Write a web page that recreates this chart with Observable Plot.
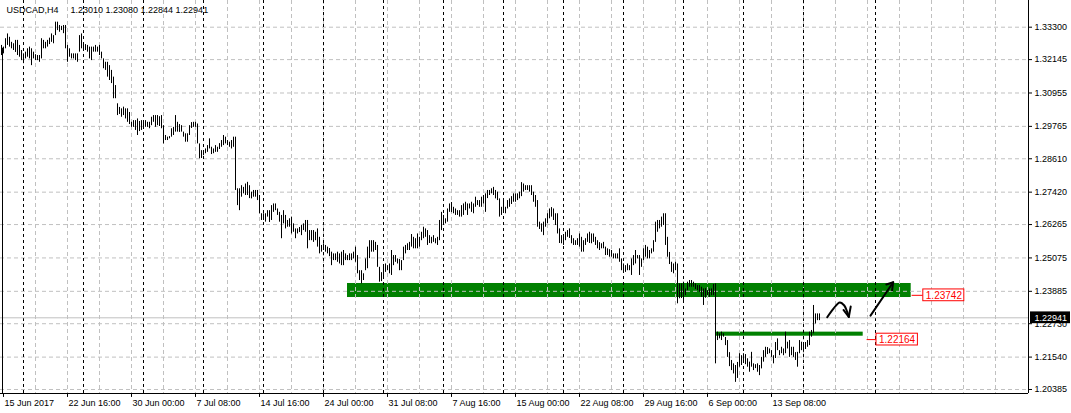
<!DOCTYPE html>
<html>
<head>
<meta charset="utf-8">
<script src="https://cdn.jsdelivr.net/npm/d3@7"></script>
<script src="https://cdn.jsdelivr.net/npm/@observablehq/plot@0.6"></script>
<style>
html,body{margin:0;padding:0;background:#fff;}
#chart svg{display:block;}
</style>
</head>
<body>
<div id="chart"></div>
<script>
// ---- data ----
const symbol = "USDCAD,H4";
const lastBarOHLC = [1.23010, 1.23080, 1.22844, 1.22941];
const firstBar = 1; // bar index of the first value below (H4 bars counted from 15 Jun 2017 00:00)
// bar highs and lows, in 1/10000 of a price unit
const highs = [13265,13259,13289,13306,13294,13276,13271,13283,13283,13265,13247,13235,13241,13253,13259,13253,13241,13232,13229,13229,
13289,13283,13276,13283,13291,13306,13300,13348,13348,13336,13333,13336,13336,13265,13253,13235,13235,13235,13235,13300,
13306,13271,13268,13265,13259,13259,13259,13265,13259,13265,13241,13217,13205,13205,13193,13176,13152,13122,13057,13044,
13039,13045,13039,13039,13026,12991,12997,12997,13003,12994,12997,12991,12997,12991,12991,13009,13015,13015,13015,13011,
13015,12979,12944,12938,12940,12968,12973,13015,12991,12983,12979,12956,12950,12950,12979,12990,12991,12991,12985,12914,
12890,12890,12896,12908,12932,12902,12896,12908,12902,12915,12926,12944,12938,12926,12920,12926,12938,12938,12754,12754,
12765,12759,12771,12777,12765,12742,12748,12748,12748,12730,12665,12665,12665,12676,12676,12694,12700,12700,12682,12670,
12659,12676,12659,12641,12647,12653,12629,12611,12611,12616,12623,12629,12641,12641,12605,12605,12605,12599,12611,12581,
12552,12558,12552,12546,12541,12528,12522,12522,12528,12522,12528,12534,12522,12516,12522,12522,12528,12546,12516,12462,
12462,12451,12504,12546,12569,12569,12569,12563,12552,12474,12455,12480,12486,12480,12486,12534,12516,12516,12504,12502,
12498,12546,12552,12558,12563,12591,12581,12576,12593,12581,12599,12617,12611,12605,12587,12581,12587,12576,12581,12641,
12670,12659,12647,12682,12700,12705,12688,12682,12676,12676,12694,12700,12706,12700,12700,12706,12700,12724,12712,12712,
12724,12730,12736,12748,12748,12754,12759,12748,12742,12718,12688,12712,12688,12712,12718,12726,12736,12736,12736,12742,
12776,12771,12765,12765,12765,12765,12742,12730,12712,12635,12629,12635,12647,12665,12682,12687,12682,12665,12665,12611,
12587,12581,12599,12605,12611,12587,12576,12569,12576,12593,12581,12569,12576,12593,12599,12593,12593,12581,12569,12562,
12558,12563,12546,12540,12537,12534,12522,12522,12522,12540,12504,12486,12480,12486,12480,12504,12516,12534,12516,12516,
12504,12540,12552,12546,12534,12540,12569,12635,12641,12641,12653,12665,12665,12581,12527,12492,12486,12492,12486,12415,
12415,12421,12397,12421,12427,12427,12421,12415,12409,12409,12403,12397,12398,12391,12397,12397,12413,12415,12243,12237,
12243,12237,12224,12213,12170,12142,12130,12124,12135,12166,12159,12166,12163,12148,12136,12171,12130,12127,12130,12124,
12153,12177,12189,12188,12183,12177,12159,12206,12219,12177,12189,12183,12243,12207,12213,12189,12189,12170,12171,12213,
12207,12201,12206,12213,12243,12249,12338,12308,12308,12308];
const lows = [13229,13235,13253,13265,13259,13253,13247,13240,13229,13223,13211,13200,13217,13223,13217,13193,13217,13211,13211,13205,
13217,13253,13253,13259,13268,13276,13271,13300,13318,13312,13318,13307,13253,13205,13223,13217,13217,13211,13205,13241,
13253,13253,13247,13241,13217,13211,13241,13241,13241,13229,13217,13182,13176,13152,13140,13129,13075,13075,13015,13019,
13009,13015,13003,12991,12983,12973,12973,12962,12944,12958,12962,12968,12973,12973,12968,12979,12991,12973,12979,12976,
12968,12914,12926,12926,12932,12938,12944,12956,12956,12955,12956,12938,12920,12920,12944,12969,12973,12973,12914,12861,
12862,12872,12879,12884,12896,12876,12879,12884,12884,12894,12902,12908,12914,12908,12902,12896,12902,12748,12694,12676,
12724,12736,12730,12730,12719,12718,12724,12724,12712,12665,12641,12641,12635,12653,12634,12641,12670,12676,12659,12635,
12576,12629,12611,12617,12617,12593,12599,12576,12593,12598,12587,12605,12599,12540,12569,12569,12563,12569,12546,12522,
12528,12534,12528,12522,12512,12480,12498,12498,12492,12486,12480,12480,12498,12498,12498,12498,12504,12492,12451,12427,
12415,12427,12462,12469,12505,12528,12528,12534,12474,12421,12423,12433,12456,12462,12451,12445,12480,12492,12486,12462,
12462,12498,12522,12534,12534,12546,12540,12540,12540,12546,12569,12576,12581,12552,12559,12558,12563,12558,12552,12569,
12605,12629,12629,12635,12670,12669,12665,12659,12659,12653,12653,12659,12676,12659,12682,12670,12665,12688,12694,12688,
12688,12700,12670,12719,12730,12736,12730,12718,12712,12653,12659,12676,12665,12682,12688,12698,12706,12706,12712,12718,
12726,12742,12748,12748,12742,12730,12706,12688,12617,12609,12599,12587,12617,12629,12647,12653,12641,12623,12593,12559,
12558,12552,12569,12581,12577,12558,12552,12552,12552,12546,12528,12528,12552,12563,12559,12558,12563,12552,12540,12534,
12540,12540,12516,12516,12510,12510,12504,12504,12504,12492,12462,12462,12456,12462,12462,12445,12480,12486,12504,12445,
12474,12498,12510,12504,12504,12522,12528,12563,12599,12611,12617,12623,12552,12510,12484,12456,12451,12462,12344,12362,
12363,12356,12373,12391,12403,12403,12403,12395,12391,12385,12367,12338,12364,12373,12367,12373,12373,12130,12213,12219,
12213,12225,12195,12153,12120,12106,12094,12064,12078,12118,12124,12142,12127,12118,12100,12118,12106,12113,12100,12088,
12112,12136,12153,12163,12166,12153,12130,12149,12177,12159,12166,12159,12166,12183,12153,12159,12153,12142,12118,12166,
12177,12171,12181,12189,12195,12225,12237,12272,12284,12284];

const priceTicks = [1.33300,1.32145,1.30955,1.29765,1.28610,1.27420,1.26265,1.25075,1.23885,1.22730,1.21540,1.20385];
const timeLabels = ["15 Jun 2017","22 Jun 16:00","30 Jun 00:00","7 Jul 08:00","14 Jul 16:00","24 Jul 00:00","31 Jul 08:00",
  "7 Aug 16:00","15 Aug 00:00","22 Aug 08:00","29 Aug 16:00","6 Sep 00:00","13 Sep 08:00"];
const timeLabelBars = [2,34,66,98,130,162,194,226,258,290,322,354,386];
const weekStartBars = [12,42,72,102,132,162,192,222,252,282,312,342,372,402,438];

// drawn objects (bar index / price)
const zones = [
  {from: 174, to: 455.85, top: 1.24164, bottom: 1.23664},   // support band
  {from: 358, to: 431.85, top: 1.22430, bottom: 1.22285}    // lower line
];
const priceLabels = [
  {price: 1.23742, from: 456.3, boxFrom: 461.9, boxTo: 482.4},
  {price: 1.22164, from: 433.8, boxFrom: 438.5, boxTo: 459.2}
];
const waveI = [413.85, 417.0, 420.15, 422.4, 423.8, 424.65];
const waveP = [1.22960, 1.23270, 1.23490, 1.23380, 1.23160, 1.22970];
const heads = [
  {g: "a", i: 422.0, p: 1.23220}, {g: "a", i: 424.65, p: 1.22970}, {g: "a", i: 425.6, p: 1.23340},
  {g: "b", i: 435.5, p: 1.23020}, {g: "b", i: 446.85, p: 1.24210},
  {g: "c", i: 443.4, p: 1.24130}, {g: "c", i: 446.85, p: 1.24210}, {g: "c", i: 446.3, p: 1.23920}
];

// ---- build ----
const bars = highs.map((h, k) => ({i: firstBar + k, high: h / 1e4, low: lows[k] / 1e4}));
const wave = waveI.map((i, k) => ({i, p: waveP[k]}));
const lastClose = lastBarOHLC[3];
const xMin = 0.5, xMax = 514.5;          // visible bar range
const yMin = 1.202424, yMax = 1.342519;  // visible price range
const half = 0.0021;
const gridBars = d3.range(18, 500, 16);
const font = '"Liberation Sans", Arial, sans-serif';
const txt = {fontSize: 9, fill: "#000"};

const chart = Plot.plot({
  width: 1071, height: 413,
  marginLeft: 0, marginRight: 43, marginTop: 0, marginBottom: 20,
  x: {type: "linear", domain: [xMin, xMax], axis: null},
  y: {type: "linear", domain: [yMin, yMax], axis: null},
  style: {fontFamily: font, fontSize: "9px", background: "#fff", overflow: "visible", color: "#000"},
  marks: [
    Plot.rect(zones, {x1: "from", x2: "to", y1: "bottom", y2: "top", fill: "#008000"}),
    Plot.ruleY(priceTicks, {stroke: "#c0c0c0", strokeDasharray: "4,3"}),
    Plot.ruleX(gridBars, {stroke: "#c0c0c0", strokeDasharray: "4,3"}),
    Plot.ruleX(weekStartBars, {stroke: "#000", strokeDasharray: "3,3"}),
    Plot.ruleY([lastClose], {stroke: "#c0c0c0"}),
    Plot.ruleX([1.5], {y1: yMin, y2: 1.3255, stroke: "#000"}),
    Plot.ruleX(bars, {x: "i", y1: "low", y2: "high", stroke: "#000"}),
    Plot.line(wave, {x: "i", y: "p", curve: "catmull-rom", stroke: "#000", strokeWidth: 2}),
    Plot.line(heads, {x: "i", y: "p", z: "g", stroke: "#000", strokeWidth: 2}),
    Plot.ruleY(priceLabels, {y: "price", x1: "from", x2: "boxFrom", stroke: "#ff0000"}),
    Plot.rect(priceLabels, {x1: "boxFrom", x2: "boxTo", y1: d => d.price - half, y2: d => d.price + half, fill: "#fff", stroke: "#ff0000"}),
    Plot.text(priceLabels, {x: "boxFrom", y: "price", dx: 2.5, text: d => d.price.toFixed(5), fill: "#ff0000", textAnchor: "start", fontSize: 10}),
    // axes
    Plot.ruleX([xMax], {stroke: "#000"}),
    Plot.ruleY([yMin], {stroke: "#000"}),
    Plot.ruleY(priceTicks, {x1: xMax, x2: xMax + 2, stroke: "#000"}),
    Plot.text(priceTicks, {x: xMax, y: d => d, dx: 6, text: d => d.toFixed(5), textAnchor: "start", ...txt}),
    Plot.rect([lastClose], {x1: xMax + 1, x2: xMax + 21, y1: d => d - half, y2: d => d + half, fill: "#000"}),
    Plot.text([lastClose], {x: xMax, y: d => d, dx: 6, text: d => d.toFixed(5), fill: "#fff", textAnchor: "start", fontSize: 9}),
    Plot.ruleX(timeLabelBars, {y1: yMin, y2: yMin - 0.0014, stroke: "#000"}),
    Plot.text(timeLabelBars, {x: d => d, y: yMin, dy: 9.5, dx: 1, text: (d, k) => timeLabels[k], textAnchor: "start", ...txt}),
    Plot.text([symbol], {frameAnchor: "top-left", dx: 6, dy: 9.5, lineAnchor: "middle", textAnchor: "start", text: d => d, ...txt}),
    Plot.text([lastBarOHLC.map(v => v.toFixed(5)).join(" ")], {frameAnchor: "top-left", dx: 70, dy: 9.5, lineAnchor: "middle", textAnchor: "start", text: d => d, ...txt})
  ]
});
document.getElementById("chart").appendChild(chart);
</script>
</body>
</html>
